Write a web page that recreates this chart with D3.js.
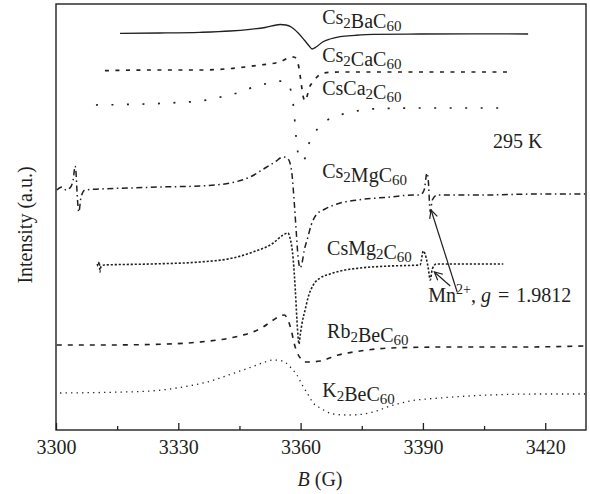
<!DOCTYPE html>
<html><head><meta charset="utf-8">
<script src="https://cdn.jsdelivr.net/npm/d3@7/dist/d3.min.js"></script>
<style>body{margin:0;background:#fff}</style>
</head><body>
<svg id="c" width="590" height="494"></svg>
<script>
// ---- data (B in gauss, intensity in arbitrary units) ----
const xTicks = [3300, 3330, 3360, 3390, 3420];
const xMinor = [3315, 3345, 3375, 3405];

const bCs2BaC60 = [3315.7,3325.5,3335.3,3342.7,3347.6,3351.3,3355.0,3356.4,3357.7,3359.4,3360.9,3362.1,3362.8,3363.8,3365.5,3367.2,3369.7,3373.4,3377.8,3389.3,3401.6,3415.8];
const iCs2BaC60 = [396.7,397,397.7,399,400.7,402.5,405.5,405,403,397,390,384,381,383,388.3,391,393.3,394.7,395.7,396,396.2,396];

const bCs2CaC60 = [3312.0,3323.1,3335.3,3343.4,3350.1,3355.0,3357.4,3358.4,3359.1,3359.6,3360.1,3360.6,3361.1,3361.6,3362.1,3362.8,3363.8,3365.5,3369.7,3379.5,3394.2,3411.9];
const iCs2CaC60 = [359.3,360,360,361.7,365,368.3,372.5,373,370,362,348,334,329,334,342,347,352,357,358,358,358,358];

const bCsCa2C60 = [3309.8,3318.9,3329.2,3337.1,3340.7,3344.7,3348.3,3352.0,3355.7,3356.9,3357.9,3358.4,3358.7,3359.1,3359.6,3360.4,3361.1,3362.1,3363.1,3364.3,3368.0,3371.7,3377.1,3389.3,3409.0];
const iCsCa2C60 = [325,325.7,327.3,330,333.3,337.3,342.7,346.7,349,347,333,318,302,285,272,269,272,287,295,302,313,317,321,322,322];

const bCs2MgC60 = [3300.2,3301.5,3302.5,3303.4,3304.2,3304.7,3304.9,3305.2,3305.6,3306.1,3307.1,3310.8,3318.2,3325.5,3335.3,3342.7,3347.6,3351.3,3353.7,3355.7,3356.7,3357.4,3357.9,3358.4,3358.9,3359.4,3359.9,3360.4,3360.9,3361.6,3362.6,3363.8,3366.0,3369.7,3373.9,3382.0,3387.6,3389.3,3390.3,3391.0,3391.3,3391.8,3392.3,3393.5,3404.1,3418.8,3429.8];
const iCs2MgC60 = [240,243,240,242,250,264,258,235,218,232,240,241,242,243,244,247,253,262,268,273,272,267,255,230,200,172,162,168,180,190,205,215,221,227,230,233,235,235,240,257,250,218,230,235,235,236,236];

const bCsMg2C60 = [3310.1,3310.3,3310.6,3310.8,3311.0,3311.8,3323.1,3335.3,3343.4,3348.3,3353.3,3355.7,3356.9,3357.4,3358.2,3358.7,3359.1,3359.4,3359.6,3359.9,3360.4,3361.1,3361.8,3363.1,3364.8,3367.2,3369.7,3374.6,3382.0,3389.3,3390.1,3390.8,3391.3,3391.8,3392.3,3393.3,3399.1,3409.7];
const iCsMg2C60 = [166,164,168,158,163,165,166,168,172,178,187,195,197,192,170,140,110,92,86,95,108,120,132,145,152,156,159,162,164,165,179,172,162,150,161,166,166,166];

const bRb2BeC60 = [3300.2,3310.8,3323.1,3335.3,3342.7,3345.9,3348.3,3350.8,3353.3,3355.0,3356.0,3356.9,3357.7,3358.4,3359.1,3360.1,3360.9,3362.3,3364.8,3369.2,3374.6,3382.0,3396.7,3413.9,3429.8];
const iRb2BeC60 = [85,85,85.5,88,92,95,98,103,110,114,115,110,100,87,78,71,68,68,69,75,79,82,83,83,84];

const bK2BeC60 = [3301.0,3310.8,3323.1,3330.4,3337.1,3343.4,3348.3,3351.3,3353.3,3355.0,3356.4,3357.7,3359.1,3360.4,3361.6,3363.1,3364.8,3368.0,3371.4,3374.6,3377.8,3382.0,3386.9,3394.2,3406.5,3418.8,3429.8];
const iK2BeC60 = [37,37.5,39,42.5,48,56.5,63.5,68,70,69.5,67,62,55,45,37,27,22,16,15,15.5,18,24,29,32,35,36,36];

const seriesNames = ["Cs2BaC60","Cs2CaC60","CsCa2C60","Cs2MgC60","CsMg2C60","Rb2BeC60","K2BeC60"];
const seriesB = [bCs2BaC60,bCs2CaC60,bCsCa2C60,bCs2MgC60,bCsMg2C60,bRb2BeC60,bK2BeC60];
const seriesI = [iCs2BaC60,iCs2CaC60,iCsCa2C60,iCs2MgC60,iCsMg2C60,iRb2BeC60,iK2BeC60];

// label anchors [B, I]
const labelB = [3365.3,3365.3,3365.3,3365.3,3366.5,3366.5,3365.3];
const labelI = [406,368,335,252,175,92,33];
const tempLabel = "295 K", tempB = 3407.2, tempI = 282;
const mnB = 3391.3, mnI = 128;
// arrows: [tailB, tailI, tipB, tipI]
const arrowLong = [3398.4,138,3392.0,220];
const arrowShort = [3396.7,144,3392.8,158];

// ---- styles ----
const dashes = [null,"4,6.5","2,13.5","6,3.5,1.5,3.5","2.2,1.8","5,6","1.3,4.2"];
const widths = [1.3,1.7,1.7,1.5,1.6,1.6,1.3];
const ink = "#231f20";
const FONT = "'Liberation Serif','Times New Roman',serif";

const svg = d3.select("#c");
const x = d3.scaleLinear().domain([3300,3430]).range([56,586]);
const y = d3.scaleLinear().domain([0,426]).range([430,4]);

// frame
svg.append("rect").attr("x",56).attr("y",4).attr("width",530).attr("height",426)
  .attr("fill","none").attr("stroke",ink).attr("stroke-width",1.4);

// axis
const gx = svg.append("g").attr("transform","translate(0,430)")
  .call(d3.axisBottom(x).tickValues(xTicks).tickSizeInner(-7).tickSizeOuter(0).tickPadding(10).tickFormat(d3.format("d")));
gx.select(".domain").remove();
gx.selectAll("line").attr("stroke",ink).attr("stroke-width",1.3);
gx.selectAll("text").attr("font-family",FONT).attr("font-size",20).attr("fill",ink);
const gm = svg.append("g").attr("transform","translate(0,430)")
  .call(d3.axisBottom(x).tickValues(xMinor).tickSizeInner(-4).tickSizeOuter(0).tickFormat(""));
gm.select(".domain").remove();
gm.selectAll("line").attr("stroke",ink).attr("stroke-width",1.3);

// titles
const xt = svg.append("text").attr("x",320).attr("y",486).attr("text-anchor","middle")
  .attr("font-family",FONT).attr("font-size",20).attr("fill",ink);
xt.append("tspan").attr("font-style","italic").text("B");
xt.append("tspan").text(" (G)");
svg.append("text").attr("transform","translate(32,225) rotate(-90)").attr("text-anchor","middle")
  .attr("font-family",FONT).attr("font-size",20).attr("fill",ink).text("Intensity (a.u.)");

// curves
const line = d3.line().x(d=>x(d[0])).y(d=>y(d[1])).curve(d3.curveMonotoneX);
seriesNames.forEach((n,k)=>{
  const pts = seriesB[k].map((b,j)=>[b,seriesI[k][j]]);
  const p = svg.append("path").datum(pts).attr("d",line).attr("fill","none")
    .attr("stroke",ink).attr("stroke-width",widths[k]).attr("stroke-linejoin","round");
  if (dashes[k]) p.attr("stroke-dasharray",dashes[k]);
});

// labels with subscripts
function chem(sel, name){
  const parts = name.match(/[A-Za-z]+|\d+/g);
  parts.forEach((p,i)=>{
    if (/^\d+$/.test(p)) {
      sel.append("tspan").attr("font-size",15).attr("dy",3.5).text(p);
      sel.append("tspan").attr("dy",-3.5).text("");
    } else sel.append("tspan").text(p);
  });
}
seriesNames.forEach((n,k)=>{
  const t = svg.append("text").attr("x",x(labelB[k])).attr("y",y(labelI[k]))
    .attr("font-family",FONT).attr("font-size",20).attr("fill",ink);
  chem(t,n);
});
svg.append("text").attr("x",x(tempB)).attr("y",y(tempI)).attr("font-family",FONT)
  .attr("font-size",20).attr("fill",ink).text(tempLabel);
const mt = svg.append("text").attr("x",x(mnB)).attr("y",y(mnI)).attr("font-family",FONT)
  .attr("font-size",20).attr("fill",ink);
mt.append("tspan").text("Mn");
mt.append("tspan").attr("font-size",14).attr("dy",-8).text("2+");
mt.append("tspan").attr("dy",8).text(",");
mt.append("tspan").attr("dx",5).attr("font-style","italic").text("g");
mt.append("tspan").attr("dx",7).text("=");
mt.append("tspan").attr("dx",7).text("1.9812");

// arrows
svg.append("defs").append("marker").attr("id","ah").attr("markerUnits","userSpaceOnUse")
  .attr("markerWidth",20).attr("markerHeight",20).attr("refX",0).attr("refY",0)
  .attr("viewBox","-10 -10 20 20").attr("orient","auto")
  .append("path").attr("d","M-8,-4L0,0L-8,4").attr("fill","none").attr("stroke",ink).attr("stroke-width",1.2);
[arrowLong,arrowShort].forEach(a=>{
  svg.append("line").attr("x1",x(a[0])).attr("y1",y(a[1])).attr("x2",x(a[2])).attr("y2",y(a[3]))
    .attr("stroke",ink).attr("stroke-width",1.2).attr("marker-end","url(#ah)");
});
</script>
</body></html>
